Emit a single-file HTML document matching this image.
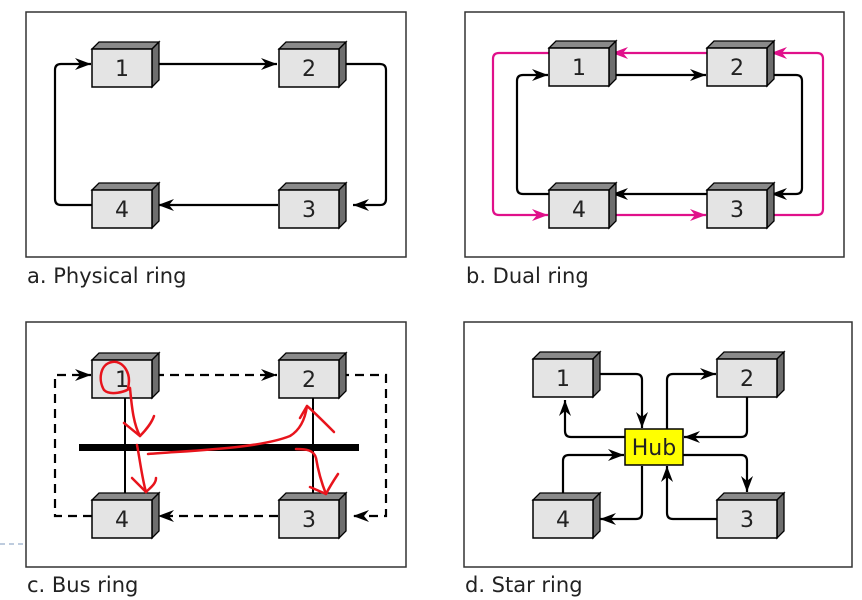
<!DOCTYPE html>
<html><head><meta charset="utf-8"><style>
body{margin:0;background:#fff;}
svg{display:block;}
text{font-family:"DejaVu Sans","Liberation Sans",sans-serif;}
</style></head><body>
<svg width="862" height="600" viewBox="0 0 862 600" xmlns="http://www.w3.org/2000/svg">
<defs>
<marker id="ak" viewBox="0 0 16 12" refX="16" refY="6" markerWidth="16" markerHeight="12" markerUnits="userSpaceOnUse" orient="auto"><path d="M0,0 L16,6 L0,12 L5,6 Z" fill="#000"/></marker>
<marker id="am" viewBox="0 0 16 12" refX="16" refY="6" markerWidth="16" markerHeight="12" markerUnits="userSpaceOnUse" orient="auto"><path d="M0,0 L16,6 L0,12 L5,6 Z" fill="#e0108a"/></marker>
<g id="bx">
<path d="M0,0 L7,-7 L67,-7 L60,0 Z" fill="#8a8a8a" stroke="#000" stroke-width="1.3"/>
<path d="M60,0 L67,-7 L67,31 L60,38 Z" fill="#6e6e6e" stroke="#000" stroke-width="1.3"/>
<rect x="0" y="0" width="60" height="38" fill="#e4e4e4" stroke="#000" stroke-width="1.5"/>
</g>
</defs>
<g fill="none" stroke="#333" stroke-width="1.5">
<rect x="26" y="12" width="380" height="245"/>
<rect x="465" y="12" width="379" height="245"/>
<rect x="26" y="322" width="380" height="245"/>
<rect x="464" y="322" width="388" height="245"/>
</g>
<g font-size="21" fill="#222">
<text x="27" y="283">a. Physical ring</text>
<text x="466" y="283">b. Dual ring</text>
<text x="27" y="592">c. Bus ring</text>
<text x="465" y="592">d. Star ring</text>
</g>

<!-- a -->
<g fill="none" stroke="#000" stroke-width="2.2">
<path d="M155,64 L277,64" marker-end="url(#ak)"/>
<path d="M340,64 L380,64 Q386,64 386,70 L386,199 Q386,205 380,205 L353,205" marker-end="url(#ak)"/>
<path d="M278,205 L158,205" marker-end="url(#ak)"/>
<path d="M92,205 L61,205 Q55,205 55,199 L55,70 Q55,64 61,64 L91,64" marker-end="url(#ak)"/>
</g>
<use href="#bx" x="92" y="49"/><use href="#bx" x="279" y="49"/>
<use href="#bx" x="279" y="190"/><use href="#bx" x="92" y="190"/>
<g font-size="22" fill="#222" text-anchor="middle">
<text x="122" y="76">1</text><text x="309" y="76">2</text>
<text x="309" y="217">3</text><text x="122" y="217">4</text>
</g>

<!-- b -->
<g fill="none" stroke="#e0108a" stroke-width="2.2">
<path d="M707,53 L612,53" marker-end="url(#am)"/>
<path d="M549,53 L499,53 Q493,53 493,59 L493,209 Q493,215 499,215 L548,215" marker-end="url(#am)"/>
<path d="M611,215 L706,215" marker-end="url(#am)"/>
<path d="M770,215 L817,215 Q823,215 823,209 L823,59 Q823,53 817,53 L771,53" marker-end="url(#am)"/>
</g>
<g fill="none" stroke="#000" stroke-width="2.2">
<path d="M611,75 L706,75" marker-end="url(#ak)"/>
<path d="M770,75 L796,75 Q802,75 802,81 L802,188 Q802,194 796,194 L771,194" marker-end="url(#ak)"/>
<path d="M707,194 L612,194" marker-end="url(#ak)"/>
<path d="M549,194 L523,194 Q517,194 517,188 L517,81 Q517,75 523,75 L548,75" marker-end="url(#ak)"/>
</g>
<use href="#bx" x="549" y="48"/><use href="#bx" x="707" y="48"/>
<use href="#bx" x="707" y="190"/><use href="#bx" x="549" y="190"/>
<g font-size="22" fill="#222" text-anchor="middle">
<text x="579" y="75">1</text><text x="737" y="75">2</text>
<text x="737" y="217">3</text><text x="579" y="217">4</text>
</g>

<!-- c -->
<g fill="none" stroke="#000" stroke-width="2.2" stroke-dasharray="9,6">
<path d="M155,375 L277,375" marker-end="url(#ak)"/>
<path d="M340,375 L386,375 L386,516 L353,516" marker-end="url(#ak)"/>
<path d="M278,516 L158,516" marker-end="url(#ak)"/>
<path d="M92,516 L55,516 L55,375 L91,375" marker-end="url(#ak)"/>
</g>
<g stroke="#000" stroke-width="2">
<line x1="125" y1="397" x2="125" y2="500"/>
<line x1="313" y1="397" x2="313" y2="500"/>
</g>
<rect x="79" y="444" width="280" height="7" fill="#000"/>
<use href="#bx" x="92" y="360"/><use href="#bx" x="279" y="360"/>
<use href="#bx" x="279" y="500"/><use href="#bx" x="92" y="500"/>
<g font-size="22" fill="#222" text-anchor="middle">
<text x="122" y="387">1</text><text x="309" y="387">2</text>
<text x="309" y="527">3</text><text x="122" y="527">4</text>
</g>
<g fill="none" stroke="#e8141c" stroke-width="2.5" stroke-linecap="round" stroke-linejoin="round">
<path d="M128,388 C132,372 122,360 112,362 C100,364 98,380 104,390 C110,396 126,392 130,388 C132,410 134,425 140,436"/>
<path d="M124,423 L140,436 C146,430 152,422 154,416"/>
<path d="M137,445 C140,460 142,478 146,492"/>
<path d="M132,478 L146,492 C150,488 156,484 156,478"/>
<path d="M148,454 C200,450 260,448 290,436 C300,430 305,420 307,406"/>
<path d="M300,418 L307,406 C312,410 322,420 334,432"/>
<path d="M296,449 C306,449 314,450 316,458 C318,470 322,484 326,494"/>
<path d="M310,487 L326,494 C330,486 334,480 338,474"/>
</g>
<line x1="0" y1="544" x2="25" y2="544" stroke="#a8bcd4" stroke-width="1.5" stroke-dasharray="5,4"/>

<!-- d -->
<g fill="none" stroke="#000" stroke-width="2.2">
<path d="M596,374 L636,374 Q642,374 642,380 L642,428" marker-end="url(#ak)"/>
<path d="M625,437 L571,437 Q565,437 565,431 L565,400" marker-end="url(#ak)"/>
<path d="M667,429 L667,380 Q667,374 673,374 L716,374" marker-end="url(#ak)"/>
<path d="M747,397 L747,431 Q747,437 741,437 L684,437" marker-end="url(#ak)"/>
<path d="M683,455 L741,455 Q747,455 747,461 L747,492" marker-end="url(#ak)"/>
<path d="M717,519 L673,519 Q667,519 667,513 L667,466" marker-end="url(#ak)"/>
<path d="M642,466 L642,513 Q642,519 636,519 L600,519" marker-end="url(#ak)"/>
<path d="M563,496 L563,461 Q563,455 569,455 L624,455" marker-end="url(#ak)"/>
</g>
<use href="#bx" x="533" y="359"/><use href="#bx" x="717" y="359"/>
<use href="#bx" x="717" y="500"/><use href="#bx" x="533" y="500"/>
<rect x="625" y="429" width="58" height="36" fill="#ffff00" stroke="#000" stroke-width="1.5"/>
<g font-size="22" fill="#222" text-anchor="middle">
<text x="563" y="386">1</text><text x="747" y="386">2</text>
<text x="747" y="527">3</text><text x="563" y="527">4</text>
<text x="654" y="455">Hub</text>
</g>
</svg>
</body></html>
